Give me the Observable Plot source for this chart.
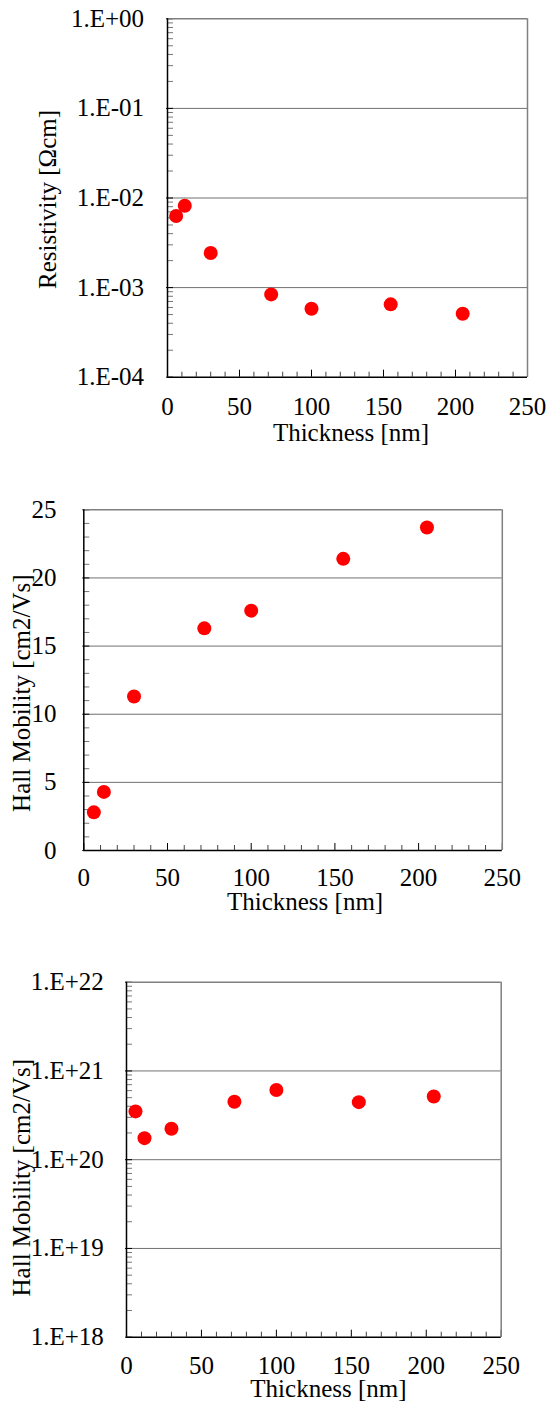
<!DOCTYPE html>
<html><head><meta charset="utf-8">
<script src="https://cdn.jsdelivr.net/npm/d3@7"></script>
<script src="https://cdn.jsdelivr.net/npm/@observablehq/plot@0.6"></script>
<style>
body{margin:0;background:#fff;}
#c{width:548px;height:1403px;position:relative;overflow:hidden;}
#c svg{display:block;position:absolute;left:0;}
#c svg text{font-family:"Liberation Serif","Times New Roman",serif !important;}
</style></head><body><div id="c"></div>
<script>
// ---- data ----
const thickness   = [6, 12, 30, 72, 100, 155, 205];            // nm
const resistivity = [6.3e-3, 8.2e-3, 2.43e-3, 8.4e-4, 5.8e-4, 6.5e-4, 5.1e-4]; // Ωcm
const mobility    = [2.8, 4.3, 11.3, 16.3, 17.6, 21.4, 23.7];  // cm2/Vs
const carrier     = [3.5e20, 1.75e20, 2.23e20, 4.5e20, 6.1e20, 4.45e20, 5.15e20];

const xTicks = [0, 50, 100, 150, 200, 250];
const xTickLabels = ["0", "50", "100", "150", "200", "250"];
const resTicks = [1e-4, 1e-3, 1e-2, 1e-1, 1];
const resTickLabels = ["1.E-04", "1.E-03", "1.E-02", "1.E-01", "1.E+00"];
const mobTicks = [0, 5, 10, 15, 20, 25];
const mobTickLabels = ["0", "5", "10", "15", "20", "25"];
const carTicks = [1e18, 1e19, 1e20, 1e21, 1e22];
const carTickLabels = ["1.E+18", "1.E+19", "1.E+20", "1.E+21", "1.E+22"];

const xTitle = "Thickness [nm]";
const resTitle = "Resistivity [Ωcm]";
const mobTitle = "Hall Mobility [cm2/Vs]";
const carTitle = "Hall Mobility [cm2/Vs]";

// ---- helpers ----
const FONT = "Liberation Serif, Times New Roman, serif";
const FS = 25;
const xMinor = d3.range(10, 250, 10).filter(v => v % 50 !== 0);
function logMinor(lo, hi) {
  const out = [];
  for (let e = lo; e < hi; e++) for (let m = 2; m <= 9; m++) out.push(m * Math.pow(10, e));
  return out;
}

function panel(p) {
  const data = thickness.map((t, i) => ({t, v: p.values[i]}));
  const svg = Plot.plot({
    width: 548, height: p.height,
    marginTop: p.mt, marginBottom: p.mb, marginLeft: p.ml, marginRight: p.mr,
    style: {fontFamily: FONT, fontSize: FS + "px", color: "black", background: "white", overflow: "visible"},
    x: {domain: [0, 250], axis: null},
    y: {type: p.yType, domain: [p.ticks[0], p.ticks[p.ticks.length - 1]], axis: null},
    marks: [
      Plot.gridY({ticks: p.ticks.slice(1, -1), stroke: "#707070", strokeOpacity: 1, strokeWidth: 1}),
      Plot.axisY({ticks: p.minor, tickSize: 6, dx: 6, tickFormat: () => "", stroke: "#777", label: null}),
      Plot.axisY({ticks: p.ticks, tickSize: 7, dx: 6, tickFormat: () => "", stroke: "black", label: null}),
      Plot.axisY({ticks: p.ticks, tickSize: 0, tickPadding: p.yPad,
        tickFormat: d => p.labels[p.ticks.indexOf(d)], fontSize: FS, fontFamily: FONT, fill: "black", label: null}),
      Plot.axisX({ticks: xMinor, tickSize: 5, dy: -5, tickFormat: () => "", stroke: "#444", label: null}),
      Plot.axisX({ticks: xTicks, tickSize: 7, dy: -7, tickFormat: () => "", stroke: "black", label: null}),
      Plot.axisX({ticks: xTicks, tickSize: 0, tickPadding: p.xPad,
        tickFormat: d => xTickLabels[xTicks.indexOf(d)], fontSize: FS, fontFamily: FONT, fill: "black", label: null}),
      Plot.ruleY([p.ticks[p.ticks.length - 1]], {stroke: "#808080", strokeWidth: 1.5}),
      Plot.ruleX([250], {stroke: "#808080", strokeWidth: 1.5}),
      Plot.ruleY([p.ticks[0]], {stroke: "black", strokeWidth: 1.5}),
      Plot.ruleX([0], {stroke: "black", strokeWidth: 1.5}),
      Plot.dot(data, {x: "t", y: "v", r: 7, fill: "#ff0000", stroke: "none"}),
      Plot.text([p.title], {text: d => d, frameAnchor: "left", rotate: -90, dx: p.ytDx, dy: p.ytDy,
        textAnchor: "middle", lineAnchor: "middle", fontSize: FS, fontFamily: FONT, fill: "black"}),
      Plot.text([xTitle], {text: d => d, frameAnchor: "bottom", dx: p.xtDx, dy: p.xtDy,
        textAnchor: "middle", lineAnchor: "bottom", fontSize: FS, fontFamily: FONT, fill: "black"})
    ]
  });
  svg.style.top = p.top + "px";
  document.getElementById("c").appendChild(svg);
}

panel({top: 0, height: 460, mt: 18.3, mb: 83.3, ml: 167, mr: 21,
  yType: "log", ticks: resTicks, labels: resTickLabels, minor: logMinor(-4, 0),
  values: resistivity, title: resTitle, yPad: 23.4, xPad: 20.5,
  ytDx: -119.7, ytDy: 1.5, xtDx: 3.5, xtDy: 63.3});

panel({top: 460, height: 460, mt: 49.3, mb: 70, ml: 83.3, mr: 46.2,
  yType: "linear", ticks: mobTicks, labels: mobTickLabels, minor: d3.range(1, 25).filter(v => v % 5 !== 0),
  values: mobility, title: mobTitle, yPad: 27.3, xPad: 17.5,
  ytDx: -62.3, ytDy: 13, xtDx: 12, xtDy: 59});

panel({top: 920, height: 483, mt: 61.7, mb: 66.3, ml: 126, mr: 47.3,
  yType: "log", ticks: carTicks, labels: carTickLabels, minor: logMinor(18, 22),
  values: carrier, title: carTitle, yPad: 22.7, xPad: 18.9,
  ytDx: -105, ytDy: 18, xtDx: 14.6, xtDy: 60});
</script>
</body></html>
